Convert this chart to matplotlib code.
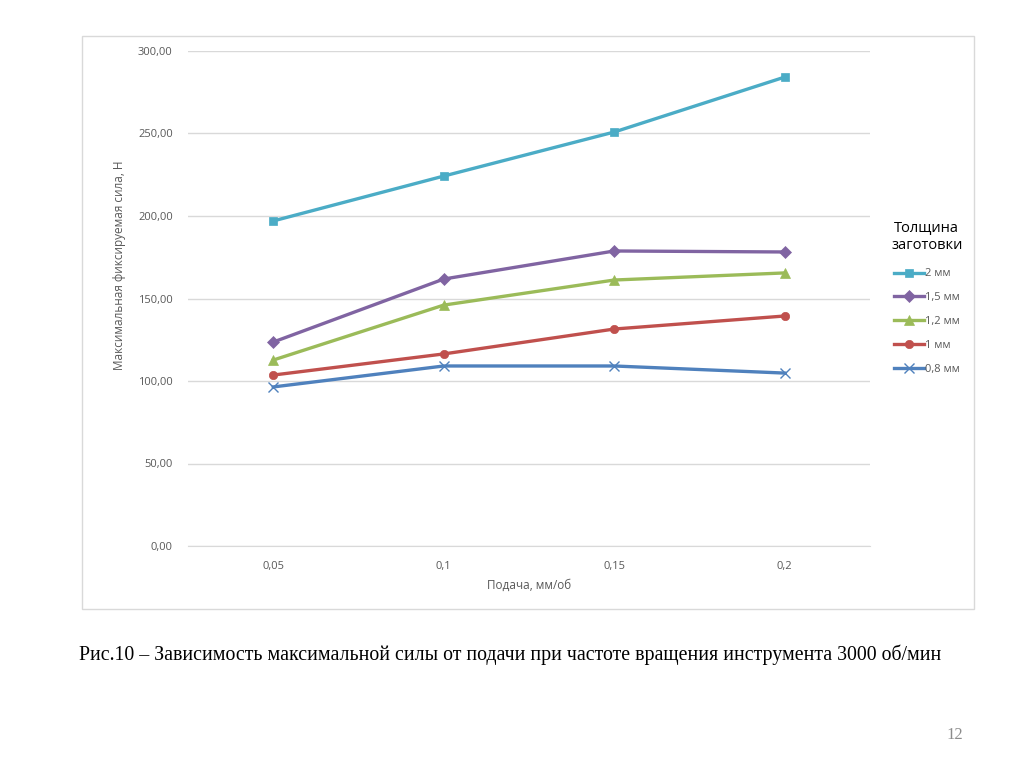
import matplotlib
matplotlib.use("Agg")
import matplotlib.pyplot as plt
from matplotlib.patches import Rectangle

# feed, mm/rev
feeds = ["0,05", "0,1", "0,15", "0,2"]

# max force, N, per workpiece thickness
f_2mm = [197.0, 224.2, 250.9, 284.2]
f_15mm = [123.6, 161.8, 178.8, 178.2]
f_12mm = [112.7, 146.0, 161.2, 165.5]
f_1mm = [103.6, 116.4, 131.5, 139.4]
f_08mm = [96.4, 109.1, 109.1, 104.8]

labels = ["2 мм", "1,5 мм", "1,2 мм", "1 мм", "0,8 мм"]
yticks = [0, 50, 100, 150, 200, 250, 300]

plt.rcParams['font.family'] = ['Open Sans', 'DejaVu Sans']

fig = plt.figure(figsize=(10.24, 7.67), dpi=100)

# chart frame
fig.patches.append(Rectangle((82 / 1024, 1 - 609 / 767), 892 / 1024, 573 / 767,
                             transform=fig.transFigure, fill=False,
                             edgecolor="#D9D9D9", linewidth=1.0))

ax = fig.add_axes([188 / 1024, 1 - 546 / 767, 682 / 1024, 495 / 767])

x = list(range(len(feeds)))
series = [
    (f_2mm, "#4BACC6", "s", 6),
    (f_15mm, "#8064A2", "D", 6),
    (f_12mm, "#9BBB59", "^", 7),
    (f_1mm, "#C0504D", "o", 6),
    (f_08mm, "#4F81BD", "x", 7),
]
for (vals, col, mk, ms), lab in zip(series, labels):
    ax.plot(x, vals, color=col, linewidth=2.4, marker=mk, markersize=ms,
            markeredgewidth=1.0 if mk == "x" else 0.5, markeredgecolor=col,
            label=lab)

ax.set_xlim(-0.5, len(feeds) - 0.5)
ax.set_ylim(0, 300)
ax.set_yticks(yticks)
ax.set_yticklabels([f"{v:.2f}".replace(".", ",") for v in yticks])
ax.set_xticks(x)
ax.set_xticklabels(feeds)
ax.grid(axis="y", color="#D9D9D9", linewidth=1.0)
ax.set_axisbelow(True)
for s in ["top", "right", "left"]:
    ax.spines[s].set_visible(False)
ax.spines["bottom"].set_color("#D9D9D9")
ax.tick_params(axis="both", length=0, labelsize=8, colors="#595959")
ax.tick_params(axis="y", pad=11)
ax.tick_params(axis="x", pad=11)

fig.text(529 / 1024, 1 - 585 / 767, "Подача, мм/об", ha="center", va="center",
         fontsize=8.5, color="#595959")
fig.text(120 / 1024, 1 - 265 / 767, "Максимальная фиксируемая сила, Н",
         ha="center", va="center", rotation=90, fontsize=8.5, color="#595959")

leg = fig.legend(loc="upper left", bbox_to_anchor=(881 / 1024, 1 - 211 / 767),
                 frameon=False, fontsize=8, title="Толщина\nзаготовки",
                 title_fontsize=10.5, handlelength=2.7, labelspacing=1.15,
                 handletextpad=0.1, labelcolor="#595959")
leg.get_title().set_multialignment("center")
leg._legend_box.sep = 11

fig.text(510 / 1024, 1 - 655 / 767,
         "Рис.10 – Зависимость максимальной силы от подачи при частоте вращения инструмента 3000 об/мин",
         ha="center", va="center", fontsize=14.3, family="Liberation Serif")
fig.text(955 / 1024, 1 - 735 / 767, "12", ha="center", va="center",
         fontsize=12, color="#8C8C8C", family="Liberation Serif")

fig.savefig("out.png", dpi=100)
